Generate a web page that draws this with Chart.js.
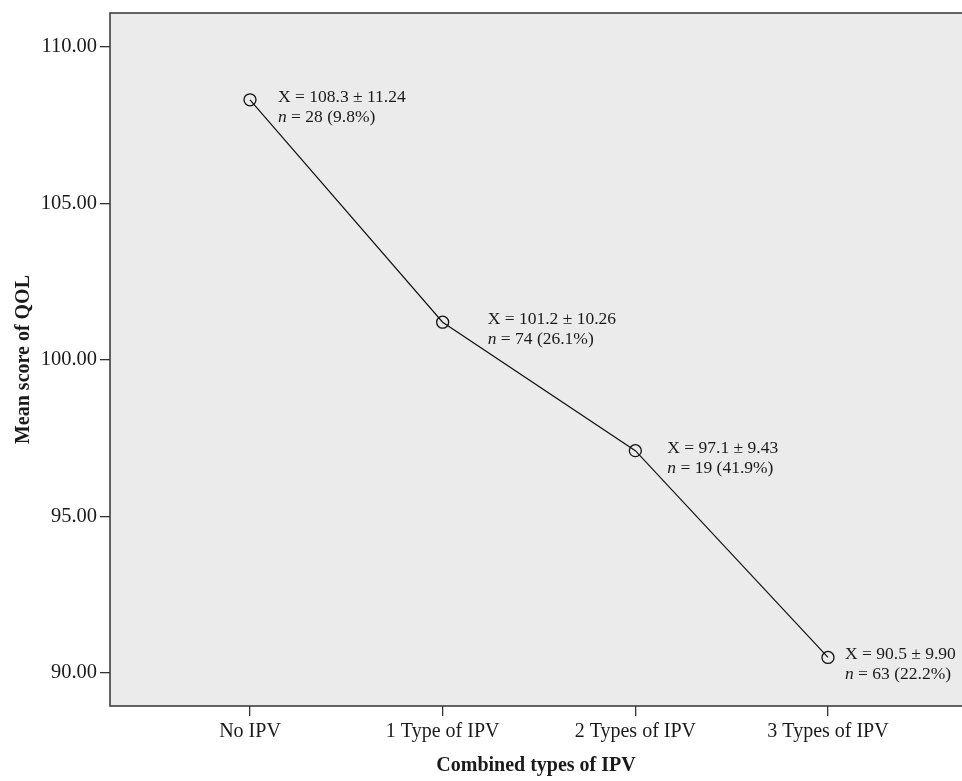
<!DOCTYPE html>
<html>
<head>
<meta charset="utf-8">
<script src="https://cdn.jsdelivr.net/npm/chart.js@4.4.1/dist/chart.umd.min.js"></script>
<style>
  html, body { margin: 0; padding: 0; background: #fff; overflow: hidden; }
  #wrap { width: 962px; height: 781px; }
  canvas { display: block; }
</style>
</head>
<body>
<div id="wrap"><canvas id="qolChart" width="962" height="781"></canvas></div>
<script>
const categories = ['No IPV', '1 Type of IPV', '2 Types of IPV', '3 Types of IPV'];
const meanScores = [108.3, 101.2, 97.1, 90.5];
const sdScores = [11.24, 10.26, 9.43, 9.90];
const counts = [28, 74, 19, 63];
const percents = ['9.8', '26.1', '41.9', '22.2'];
const yTicks = [90, 95, 100, 105, 110];

const serif = '"Liberation Serif", "Times New Roman", serif';

// gray plot panel and frame
const panel = {
  id: 'panel',
  beforeDraw(chart) {
    const { ctx, chartArea: a } = chart;
    ctx.save();
    ctx.fillStyle = '#ebebeb';
    ctx.fillRect(a.left, a.top, a.right - a.left, a.bottom - a.top);
    ctx.strokeStyle = '#333';
    ctx.lineWidth = 1.5;
    ctx.beginPath();
    ctx.moveTo(a.right, a.top);
    ctx.lineTo(a.left, a.top);
    ctx.lineTo(a.left, a.bottom);
    ctx.lineTo(a.right, a.bottom);
    ctx.stroke();
    ctx.restore();
  }
};

// "X = mean ± sd" / "n = count (pct%)" next to each point
const pointNotes = {
  id: 'pointNotes',
  afterDatasetsDraw(chart, args, opts) {
    const { ctx } = chart;
    const pts = chart.getDatasetMeta(0).data;
    ctx.save();
    ctx.fillStyle = '#1a1a1a';
    ctx.textBaseline = 'alphabetic';
    ctx.textAlign = 'left';
    pts.forEach((p, i) => {
      const x = p.x + opts.dx[i];
      const y = p.y + 2;
      ctx.font = '17.5px ' + serif;
      ctx.fillText('X = ' + meanScores[i].toFixed(1) + ' \u00b1 ' + sdScores[i].toFixed(2), x, y);
      ctx.font = 'italic 17.5px ' + serif;
      ctx.fillText('n', x, y + 20);
      const w = ctx.measureText('n').width;
      ctx.font = '17.5px ' + serif;
      ctx.fillText(' = ' + counts[i] + ' (' + percents[i] + '%)', x + w, y + 20);
    });
    ctx.restore();
  }
};

new Chart(document.getElementById('qolChart'), {
  type: 'line',
  data: {
    datasets: [{
      data: meanScores.map((v, i) => ({ x: i, y: v })),
      borderColor: '#111',
      borderWidth: 1.2,
      tension: 0,
      pointRadius: 6,
      pointBorderWidth: 1.3,
      pointBorderColor: '#111',
      pointBackgroundColor: 'rgba(0,0,0,0)'
    }]
  },
  options: {
    responsive: false,
    animation: false,
    layout: { autoPadding: false, padding: { top: 13, left: 0, right: 0, bottom: 0 } },
    plugins: {
      legend: { display: false },
      tooltip: { enabled: false },
      pointNotes: { dx: [28, 45, 32, 17] }
    },
    scales: {
      x: {
        type: 'linear',
        min: -0.7266,
        max: 3.6955,
        afterBuildTicks: s => { s.ticks = categories.map((c, i) => ({ value: i })); },
        afterFit: s => { s.height = 75; s.paddingLeft = 0; s.paddingRight = 0; },
        grid: { drawOnChartArea: false, drawTicks: true, tickLength: 10, color: '#333', lineWidth: 1.3 },
        border: { display: false },
        ticks: {
          autoSkip: false,
          maxRotation: 0,
          padding: 4,
          color: '#1a1a1a',
          font: { family: serif, size: 20 },
          callback: v => categories[v]
        },
        title: {
          display: true,
          text: 'Combined types of IPV',
          color: '#1a1a1a',
          font: { family: serif, size: 20, weight: 'bold' },
          padding: { top: 0, bottom: 3 }
        }
      },
      y: {
        min: 88.95,
        max: 111.07,
        afterBuildTicks: s => { s.ticks = yTicks.map(v => ({ value: v })); },
        afterFit: s => { s.width = 110; s.paddingTop = 0; s.paddingBottom = 0; },
        grid: { drawOnChartArea: false, drawTicks: true, tickLength: 10, color: '#333', lineWidth: 1.3 },
        border: { display: false },
        ticks: {
          padding: 3,
          color: '#1a1a1a',
          font: { family: serif, size: 20.5 },
          callback: v => v.toFixed(2)
        },
        title: {
          display: true,
          text: 'Mean score of QOL',
          color: '#1a1a1a',
          font: { family: serif, size: 20, weight: 'bold' },
          padding: { top: 12, bottom: 0 }
        }
      }
    }
  },
  plugins: [panel, pointNotes]
});
</script>
</body>
</html>
